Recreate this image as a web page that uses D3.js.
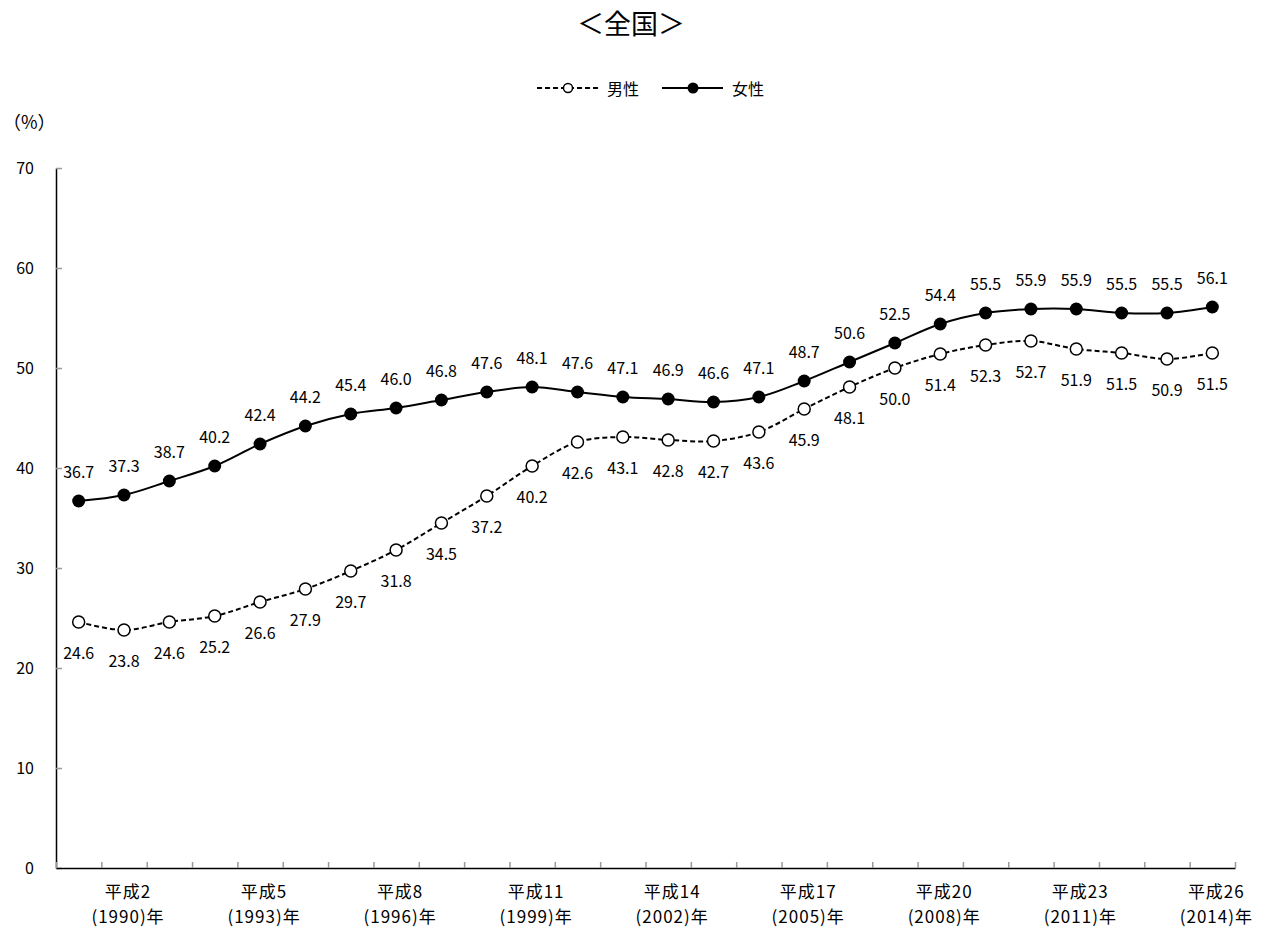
<!DOCTYPE html>
<html><head><meta charset="utf-8">
<script src="https://cdn.jsdelivr.net/npm/d3@7"></script>
<style>
body{margin:0;background:#fff;}
text{font-family:"Noto Sans CJK JP","Noto Sans",sans-serif;fill:#000;}
</style></head>
<body><svg id="c" width="1262" height="931"></svg>
<script>
const years = [1989,1990,1991,1992,1993,1994,1995,1996,1997,1998,1999,2000,2001,2002,2003,2004,2005,2006,2007,2008,2009,2010,2011,2012,2013,2014];
const male = [24.6,23.8,24.6,25.2,26.6,27.9,29.7,31.8,34.5,37.2,40.2,42.6,43.1,42.8,42.7,43.6,45.9,48.1,50.0,51.4,52.3,52.7,51.9,51.5,50.9,51.5];
const female = [36.7,37.3,38.7,40.2,42.4,44.2,45.4,46.0,46.8,47.6,48.1,47.6,47.1,46.9,46.6,47.1,48.7,50.6,52.5,54.4,55.5,55.9,55.9,55.5,55.5,56.1];
const labelYears = [1990,1993,1996,1999,2002,2005,2008,2011,2014];
const labelHeisei = ["平成2","平成5","平成8","平成11","平成14","平成17","平成20","平成23","平成26"];
const yTicks = [0,10,20,30,40,50,60,70];
const seriesNames = ["男性","女性"];
const title = "＜全国＞";
const yUnit = "（%）";

const svg = d3.select("#c");
const L = 56, R = 1235, T = 168, B = 868;
const x = d3.scaleBand().domain(years).range([L, R]).padding(0);
const xb = d3.scaleLinear().domain([0, years.length]).range([L, R]);
const y = d3.scaleLinear().domain([0, 70]).range([B, T]);
const cx = d => x(d) + x.bandwidth() / 2;

// title
svg.append("text").attr("x", 631).attr("y", 22).attr("text-anchor", "middle")
  .attr("dominant-baseline", "central").style("font-size", "27px").text(title);

// legend
const lg = svg.append("g");
lg.append("line").attr("x1", 537).attr("x2", 598).attr("y1", 88).attr("y2", 88)
  .attr("stroke", "#000").attr("stroke-width", 2).attr("stroke-dasharray", "5,3");
lg.append("circle").attr("cx", 568).attr("cy", 88).attr("r", 4.5).attr("fill", "#fff").attr("stroke", "#000").attr("stroke-width", 1.5);
lg.append("text").attr("x", 607).attr("y", 88).attr("dominant-baseline", "central").style("font-size", "16px").text(seriesNames[0]);
lg.append("line").attr("x1", 662).attr("x2", 723).attr("y1", 88).attr("y2", 88)
  .attr("stroke", "#000").attr("stroke-width", 2);
lg.append("circle").attr("cx", 693).attr("cy", 88).attr("r", 5.5).attr("fill", "#000");
lg.append("text").attr("x", 732).attr("y", 88).attr("dominant-baseline", "central").style("font-size", "16px").text(seriesNames[1]);

// unit
svg.append("text").attr("x", 3).attr("y", 121).attr("dominant-baseline", "central").style("font-size", "18px").text(yUnit);

// y axis
const ya = svg.append("g").attr("transform", `translate(${L},0)`)
  .call(d3.axisLeft(y).tickValues(yTicks).tickSize(-6).tickSizeOuter(0).tickPadding(22));
ya.select(".domain").attr("stroke", "#000").attr("stroke-width", 1.5);
ya.selectAll(".tick line").attr("stroke", "#999").attr("stroke-width", 1.5);
ya.selectAll(".tick text").style("font-size", "16px").attr("fill", "#000")
  .style("font-family", '"Noto Sans CJK JP","Noto Sans",sans-serif');

// x axis
const xa = svg.append("g").attr("transform", `translate(0,${B})`)
  .call(d3.axisBottom(xb).tickValues(d3.range(years.length + 1)).tickSize(-6).tickSizeOuter(0).tickFormat(""));
xa.select(".domain").attr("stroke", "#000").attr("stroke-width", 1.5);
xa.selectAll(".tick line").attr("stroke", "#999").attr("stroke-width", 1.5);

// x labels
labelYears.forEach((yr, i) => {
  const t = svg.append("text").attr("text-anchor", "middle").style("font-size", "17px");
  t.append("tspan").attr("x", cx(yr) + 4).attr("y", 898).attr("letter-spacing", "1px").text(labelHeisei[i]);
  t.append("tspan").attr("x", cx(yr) + 4).attr("y", 923).attr("letter-spacing", "1px").text("(" + yr + ")年");
});

const line = d3.line().x((d, i) => cx(years[i])).y(d => y(d)).curve(d3.curveCatmullRom.alpha(0.5));

// male
svg.append("path").datum(male).attr("d", line).attr("fill", "none").attr("stroke", "#000")
  .attr("stroke-width", 2).attr("stroke-dasharray", "5,3");
svg.selectAll(".mpt").data(male).join("circle").attr("class", "mpt")
  .attr("cx", (d, i) => cx(years[i])).attr("cy", d => y(d)).attr("r", 6)
  .attr("fill", "#fff").attr("stroke", "#000").attr("stroke-width", 1.5);
svg.selectAll(".mlb").data(male).join("text").attr("class", "mlb")
  .attr("x", (d, i) => cx(years[i])).attr("y", d => y(d) + 30)
  .attr("text-anchor", "middle").attr("dominant-baseline", "central").style("font-size", "16px")
  .text(d => d.toFixed(1));

// female
svg.append("path").datum(female).attr("d", line).attr("fill", "none").attr("stroke", "#000")
  .attr("stroke-width", 2);
svg.selectAll(".fpt").data(female).join("circle").attr("class", "fpt")
  .attr("cx", (d, i) => cx(years[i])).attr("cy", d => y(d)).attr("r", 6.5).attr("fill", "#000");
svg.selectAll(".flb").data(female).join("text").attr("class", "flb")
  .attr("x", (d, i) => cx(years[i])).attr("y", d => y(d) - 30)
  .attr("text-anchor", "middle").attr("dominant-baseline", "central").style("font-size", "16px")
  .text(d => d.toFixed(1));
</script></body></html>
